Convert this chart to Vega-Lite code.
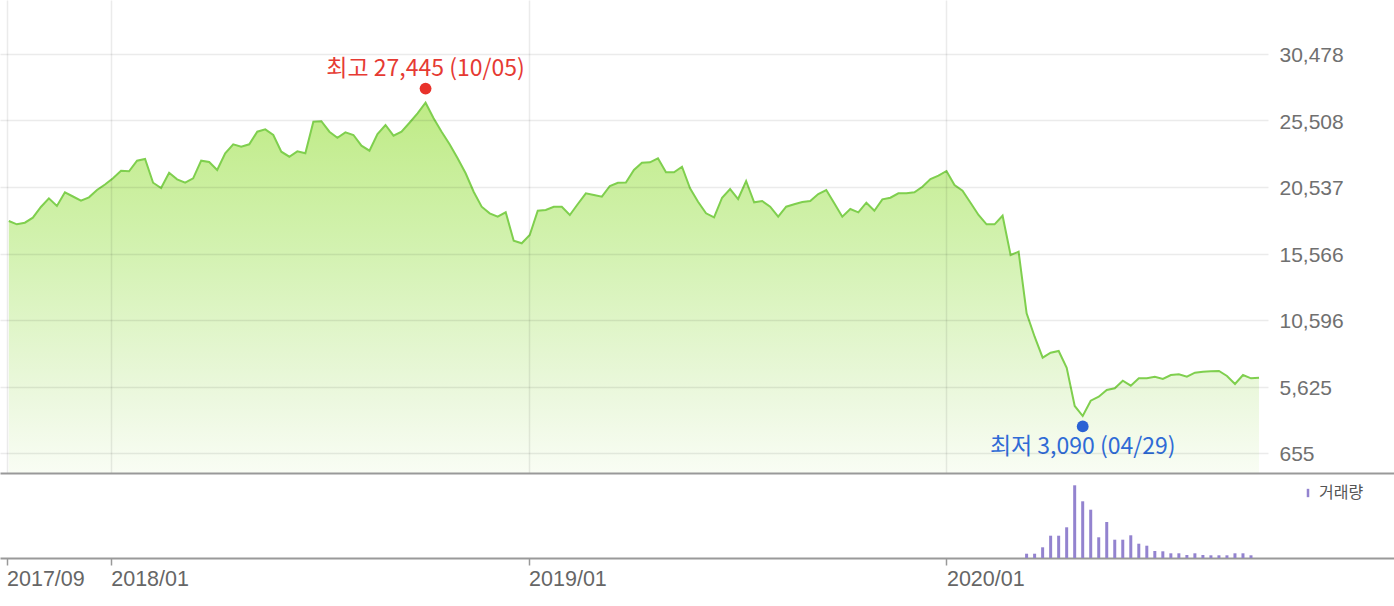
{
  "$schema": "https://vega.github.io/schema/vega-lite/v6.json",
  "autosize": {"type": "pad"},
  "padding": 0,
  "spacing": 0,
  "bounds": "flush",
  "background": "white",
  "config": {"view": {"stroke": null}},
  "datasets": {
    "price": [
      {"date":"2017-10-04","price":17995},{"date":"2017-10-11","price":17748},{"date":"2017-10-18","price":17868},{"date":"2017-10-25","price":18241},
      {"date":"2017-11-01","price":19041},{"date":"2017-11-08","price":19691},{"date":"2017-11-15","price":19116},{"date":"2017-11-22","price":20140},
      {"date":"2017-11-29","price":19826},{"date":"2017-12-06","price":19512},{"date":"2017-12-13","price":19766},{"date":"2017-12-20","price":20312},
      {"date":"2017-12-27","price":20723},{"date":"2018-01-03","price":21186},{"date":"2018-01-10","price":21754},{"date":"2018-01-17","price":21709},
      {"date":"2018-01-24","price":22502},{"date":"2018-01-31","price":22629},{"date":"2018-02-07","price":20857},{"date":"2018-02-14","price":20461},
      {"date":"2018-02-21","price":21605},{"date":"2018-02-28","price":21111},{"date":"2018-03-07","price":20857},{"date":"2018-03-14","price":21186},
      {"date":"2018-03-21","price":22502},{"date":"2018-03-28","price":22404},{"date":"2018-04-04","price":21806},{"date":"2018-04-11","price":23055},
      {"date":"2018-04-18","price":23727},{"date":"2018-04-25","price":23548},{"date":"2018-05-02","price":23727},{"date":"2018-05-09","price":24669},
      {"date":"2018-05-16","price":24848},{"date":"2018-05-23","price":24422},{"date":"2018-05-30","price":23174},{"date":"2018-06-06","price":22800},
      {"date":"2018-06-13","price":23204},{"date":"2018-06-20","price":23055},{"date":"2018-06-27","price":25417},{"date":"2018-07-04","price":25454},
      {"date":"2018-07-11","price":24669},{"date":"2018-07-18","price":24221},{"date":"2018-07-25","price":24624},{"date":"2018-08-01","price":24422},
      {"date":"2018-08-08","price":23623},{"date":"2018-08-15","price":23249},{"date":"2018-08-22","price":24497},{"date":"2018-08-29","price":25170},
      {"date":"2018-09-05","price":24370},{"date":"2018-09-12","price":24669},{"date":"2018-09-19","price":25342},{"date":"2018-09-26","price":26044},
      {"date":"2018-10-03","price":26837},{"date":"2018-10-10","price":25670},{"date":"2018-10-17","price":24669},{"date":"2018-10-24","price":23727},
      {"date":"2018-10-31","price":22681},{"date":"2018-11-07","price":21560},{"date":"2018-11-14","price":20185},{"date":"2018-11-21","price":19064},
      {"date":"2018-11-28","price":18570},{"date":"2018-12-05","price":18316},{"date":"2018-12-12","price":18645},{"date":"2018-12-19","price":16522},
      {"date":"2018-12-26","price":16328},{"date":"2019-01-02","price":16948},{"date":"2019-01-09","price":18765},{"date":"2019-01-16","price":18817},
      {"date":"2019-01-23","price":19064},{"date":"2019-01-30","price":19064},{"date":"2019-02-06","price":18443},{"date":"2019-02-13","price":19265},
      {"date":"2019-02-20","price":20065},{"date":"2019-02-27","price":19938},{"date":"2019-03-06","price":19811},{"date":"2019-03-13","price":20611},
      {"date":"2019-03-20","price":20857},{"date":"2019-03-27","price":20872},{"date":"2019-04-03","price":21806},{"date":"2019-04-10","price":22352},
      {"date":"2019-04-17","price":22382},{"date":"2019-04-24","price":22681},{"date":"2019-05-01","price":21634},{"date":"2019-05-08","price":21634},
      {"date":"2019-05-15","price":22053},{"date":"2019-05-22","price":20439},{"date":"2019-05-29","price":19437},{"date":"2019-06-05","price":18570},
      {"date":"2019-06-12","price":18271},{"date":"2019-06-19","price":19736},{"date":"2019-06-26","price":20386},{"date":"2019-07-03","price":19639},
      {"date":"2019-07-10","price":20984},{"date":"2019-07-17","price":19392},{"date":"2019-07-24","price":19489},{"date":"2019-07-31","price":19064},
      {"date":"2019-08-07","price":18316},{"date":"2019-08-14","price":19064},{"date":"2019-08-21","price":19243},{"date":"2019-08-28","price":19415},
      {"date":"2019-09-04","price":19489},{"date":"2019-09-11","price":20013},{"date":"2019-09-18","price":20312},{"date":"2019-09-25","price":19318},
      {"date":"2019-10-02","price":18316},{"date":"2019-10-09","price":18892},{"date":"2019-10-16","price":18645},{"date":"2019-10-23","price":19362},
      {"date":"2019-10-30","price":18765},{"date":"2019-11-06","price":19616},{"date":"2019-11-13","price":19736},{"date":"2019-11-20","price":20065},
      {"date":"2019-11-27","price":20065},{"date":"2019-12-04","price":20140},{"date":"2019-12-11","price":20558},{"date":"2019-12-18","price":21134},
      {"date":"2019-12-25","price":21381},{"date":"2020-01-01","price":21732},{"date":"2020-01-08","price":20685},{"date":"2020-01-15","price":20259},
      {"date":"2020-01-22","price":19362},{"date":"2020-01-29","price":18443},{"date":"2020-02-05","price":17748},{"date":"2020-02-12","price":17748},
      {"date":"2020-02-19","price":18391},{"date":"2020-02-26","price":15454},{"date":"2020-03-04","price":15700},{"date":"2020-03-11","price":11096},
      {"date":"2020-03-18","price":9347},{"date":"2020-03-25","price":7778},{"date":"2020-04-01","price":8151},{"date":"2020-04-08","price":8278},
      {"date":"2020-04-15","price":7030},{"date":"2020-04-22","price":4168},{"date":"2020-04-29","price":3420},{"date":"2020-05-06","price":4564},
      {"date":"2020-05-13","price":4863},{"date":"2020-05-20","price":5364},{"date":"2020-05-27","price":5491},{"date":"2020-06-03","price":6059},
      {"date":"2020-06-10","price":5685},{"date":"2020-06-17","price":6238},{"date":"2020-06-24","price":6238},{"date":"2020-07-01","price":6358},
      {"date":"2020-07-08","price":6186},{"date":"2020-07-15","price":6485},{"date":"2020-07-22","price":6537},{"date":"2020-07-29","price":6358},
      {"date":"2020-08-05","price":6657},{"date":"2020-08-12","price":6731},{"date":"2020-08-19","price":6761},{"date":"2020-08-26","price":6784},
      {"date":"2020-09-02","price":6410},{"date":"2020-09-09","price":5812},{"date":"2020-09-16","price":6485},{"date":"2020-09-23","price":6238},
      {"date":"2020-09-30","price":6283}
    ],
    "volume": [
      {"date":"2020-03-11","volume":43000},{"date":"2020-03-18","volume":43000},{"date":"2020-03-25","volume":107000},{"date":"2020-04-01","volume":223000},
      {"date":"2020-04-08","volume":223000},{"date":"2020-04-15","volume":307000},{"date":"2020-04-22","volume":727000},{"date":"2020-04-29","volume":567000},
      {"date":"2020-05-06","volume":483000},{"date":"2020-05-13","volume":207000},{"date":"2020-05-20","volume":360000},{"date":"2020-05-27","volume":183000},
      {"date":"2020-06-03","volume":183000},{"date":"2020-06-10","volume":227000},{"date":"2020-06-17","volume":143000},{"date":"2020-06-24","volume":123000},
      {"date":"2020-07-01","volume":70000},{"date":"2020-07-08","volume":67000},{"date":"2020-07-15","volume":47000},{"date":"2020-07-22","volume":47000},
      {"date":"2020-07-29","volume":30000},{"date":"2020-08-05","volume":47000},{"date":"2020-08-12","volume":30000},{"date":"2020-08-19","volume":27000},
      {"date":"2020-08-26","volume":27000},{"date":"2020-09-02","volume":27000},{"date":"2020-09-09","volume":47000},{"date":"2020-09-16","volume":47000},
      {"date":"2020-09-23","volume":27000}
    ],
    "extremes": [
      {"date":"2018-10-03","price":27445,"kind":"max","label":"최고 27,445 (10/05)"},
      {"date":"2020-04-29","price":3090,"kind":"min","label":"최저 3,090 (04/29)"}
    ]
  },
  "resolve": {"scale": {"x": "independent", "color": "independent"}, "legend": {"color": "independent"}},
  "vconcat": [
    {
      "width": 1268,
      "height": 473,
      "encoding": {
        "x": {
          "field": "date",
          "type": "temporal",
          "scale": {
            "type": "utc", "padding": 0, "nice": false,
            "domain": [
              {"year": 2017, "month": 9, "date": 26, "hours": 7, "utc": true},
              {"year": 2020, "month": 10, "date": 7, "hours": 20, "utc": true}
            ]
          },
          "axis": {
            "title": null,
            "values": [
              {"year": 2017, "month": 10, "date": 2, "utc": true},
              {"year": 2018, "month": 1, "date": 1, "utc": true},
              {"year": 2019, "month": 1, "date": 1, "utc": true},
              {"year": 2020, "month": 1, "date": 1, "utc": true}
            ],
            "labels": false,
            "ticks": false,
            "domain": false,
            "grid": true,
            "gridColor": "#000000",
            "gridOpacity": 0.08,
            "gridWidth": 1.5,
            "zindex": 1
          }
        },
        "y": {
          "field": "price",
          "type": "quantitative",
          "scale": {"domain": [-840, 34514], "nice": false, "zero": false},
          "axis": {
            "title": null,
            "orient": "right",
            "values": [655, 5625, 10596, 15566, 20537, 25508, 30478],
            "format": ",d",
            "ticks": false,
            "domain": false,
            "grid": true,
            "gridColor": "#000000",
            "gridOpacity": 0.08,
            "gridWidth": 1.5,
            "zindex": 1,
            "labelPadding": 11,
            "labelAlign": "left",
            "labelBaseline": "middle",
            "labelOffset": 2,
            "labelFont": "Liberation Sans",
            "labelFontSize": 21,
            "labelColor": "#707070"
          }
        }
      },
      "layer": [
        {
          "data": {"name": "price"},
          "mark": {
            "type": "area",
            "interpolate": "linear",
            "color": {
              "gradient": "linear",
              "x1": 0, "y1": 0, "x2": 0, "y2": 1,
              "stops": [
                {"offset": 0, "color": "#bfeb86"},
                {"offset": 0.4, "color": "#d3f2b1"},
                {"offset": 0.8, "color": "#ecf8df"},
                {"offset": 1, "color": "#f9fdf4"}
              ]
            }
          },
          "encoding": {"y2": {"datum": -840}}
        },
        {
          "data": {"name": "price"},
          "mark": {"type": "line", "color": "#7fcf4e", "strokeWidth": 2, "interpolate": "linear"}
        },
        {
          "data": {"name": "extremes"},
          "transform": [{"filter": "datum.kind == 'max'"}],
          "mark": {"type": "point", "filled": true, "opacity": 1, "size": 140, "color": "#e8322b", "yOffset": -6}
        },
        {
          "data": {"name": "extremes"},
          "transform": [{"filter": "datum.kind == 'max'"}],
          "mark": {"type": "text", "font": "Noto Sans CJK KR", "fontSize": 23, "color": "#e63a33", "baseline": "middle", "align": "center", "dy": -26},
          "encoding": {"text": {"field": "label"}}
        },
        {
          "data": {"name": "extremes"},
          "transform": [{"filter": "datum.kind == 'min'"}],
          "mark": {"type": "point", "filled": true, "opacity": 1, "size": 140, "color": "#2a62d4", "yOffset": 6}
        },
        {
          "data": {"name": "extremes"},
          "transform": [{"filter": "datum.kind == 'min'"}],
          "mark": {"type": "text", "font": "Noto Sans CJK KR", "fontSize": 23, "color": "#2f6bd6", "baseline": "middle", "align": "center", "dy": 27},
          "encoding": {"text": {"field": "label"}}
        }
      ]
    },
    {
      "width": 1394,
      "height": 85,
      "data": {"name": "volume"},
      "encoding": {
        "x": {
          "field": "date",
          "type": "temporal",
          "scale": {
            "type": "utc", "padding": 0, "nice": false,
            "domain": [
              {"year": 2017, "month": 9, "date": 26, "hours": 7, "utc": true},
              {"year": 2021, "month": 1, "date": 25, "hours": 22, "utc": true}
            ]
          }
        },
        "y": {"field": "volume", "type": "quantitative", "scale": {"domain": [0, 850000], "nice": false}, "axis": null}
      },
      "layer": [
        {
          "mark": {"type": "bar", "width": 3},
          "encoding": {
            "x": {
              "field": "date",
              "type": "temporal",
              "axis": {
                "title": null,
                "orient": "bottom",
                "values": [
                  {"year": 2017, "month": 10, "date": 2, "utc": true},
                  {"year": 2018, "month": 1, "date": 1, "utc": true},
                  {"year": 2019, "month": 1, "date": 1, "utc": true},
                  {"year": 2020, "month": 1, "date": 1, "utc": true}
                ],
                "labelExpr": "datum.value < utc(2017, 10, 15) ? '2017/09' : utcFormat(datum.value, '%Y/%m')",
                "labelAlign": "left",
                "labelBaseline": "top",
                "labelFont": "Liberation Sans",
                "labelFontSize": 21.5,
                "labelColor": "#666666",
                "labelPadding": 3,
                "labelOverlap": false,
                "labelFlush": false,
                "tickColor": "#999999",
                "tickSize": 7,
                "tickWidth": 1.5,
                "domain": true,
                "domainColor": "#999999",
                "domainWidth": 2,
                "grid": false
              }
            },
            "color": {
              "datum": "거래량",
              "type": "nominal",
              "scale": {"range": ["#9383cf"]},
              "legend": {
                "title": null,
                "orient": "none",
                "legendX": 1300,
                "legendY": 12,
                "padding": 0,
                "symbolType": "M-0.3,-1H0.3V1H-0.3Z",
                "symbolSize": 70,
                "symbolStrokeWidth": 0,
                "labelFont": "Noto Sans CJK KR",
                "labelFontSize": 16,
                "labelColor": "#555555",
                "labelOffset": 3
              }
            }
          }
        },
        {
          "mark": {"type": "bar", "width": 3, "opacity": 0},
          "encoding": {
            "x": {
              "field": "date",
              "type": "temporal",
              "axis": {
                "title": null,
                "orient": "top",
                "labels": false,
                "ticks": false,
                "grid": false,
                "domain": true,
                "domainColor": "#999999",
                "domainWidth": 2
              }
            }
          }
        }
      ],
      "resolve": {"axis": {"x": "independent"}}
    }
  ]
}
